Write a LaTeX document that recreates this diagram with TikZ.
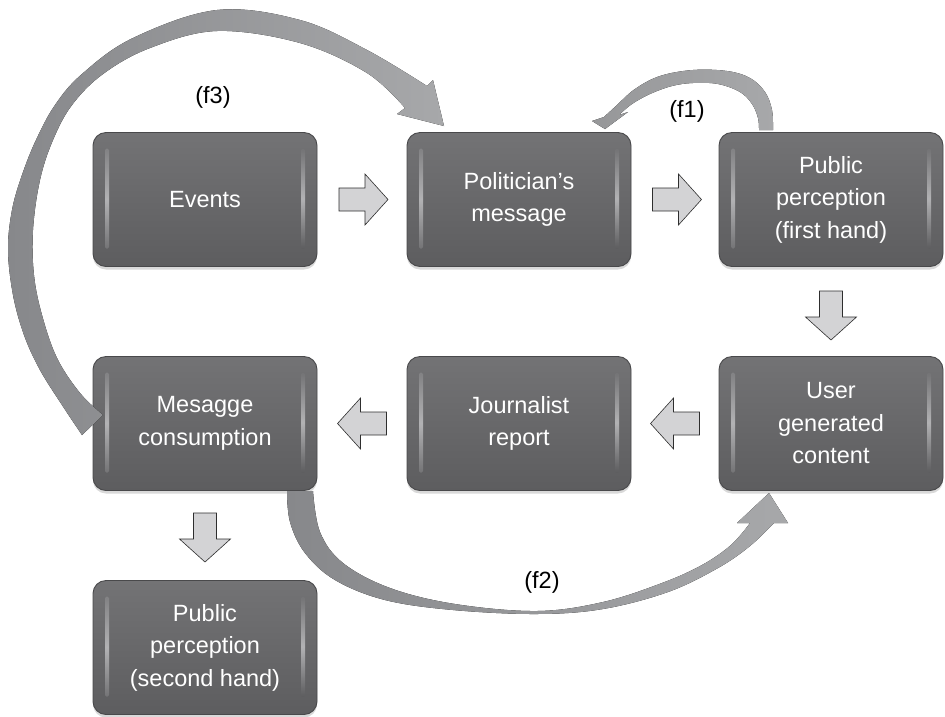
\documentclass[tikz,border=0pt]{standalone}
\usepackage{fontspec}
\setmainfont{Liberation Sans}
\usetikzlibrary{calc,shadows}
\definecolor{boxtop}{HTML}{737375}
\definecolor{boxbot}{HTML}{5D5D5F}
\definecolor{boxedge}{HTML}{49494B}
\definecolor{stripc}{HTML}{B2B2B4}
\definecolor{arrfill}{HTML}{D3D3D5}
\definecolor{arredge}{HTML}{2E2E2E}
\definecolor{cdark}{HTML}{87888B}
\definecolor{clight}{HTML}{A7A8AA}
\tikzset{
 box/.style={rectangle, rounded corners=13pt, minimum width=224pt, minimum height=134pt,
   inner sep=0pt, draw=boxedge, line width=0.9pt, top color=boxtop, bottom color=boxbot,
   text=white, font=\fontsize{23.5}{32.5}\selectfont, align=center,
   drop shadow={shadow xshift=0pt, shadow yshift=-3pt, opacity=0.3},
   path picture={
     \shade[top color=boxtop, bottom color=boxbot, middle color=stripc, rounded corners=1.5pt]
       ($(path picture bounding box.north west)+(12pt,-16pt)$) rectangle ($(path picture bounding box.south west)+(16pt,18pt)$);
     \shade[top color=boxtop, bottom color=boxbot, middle color=stripc, rounded corners=1.5pt]
       ($(path picture bounding box.north east)+(-16pt,-16pt)$) rectangle ($(path picture bounding box.south east)+(-12pt,18pt)$);
   }},
 flowlabel/.style={font=\fontsize{23.5}{27}\selectfont, text=black, inner sep=0pt},
 blockarrow/.pic={\draw[fill=arrfill, draw=arredge, line width=0.6pt, line join=miter]
   (-24.5,-11.5) -- (1.5,-11.5) -- (1.5,-25.5) -- (24.5,0) -- (1.5,25.5) -- (1.5,11.5) -- (-24.5,11.5) -- cycle;},
 curvedarrow/.style={left color=cdark, right color=clight, draw=none}
}
\begin{document}
\begin{tikzpicture}[x=1pt,y=-1pt]
\useasboundingbox (0,0) rectangle (945,716);
% boxes
\node[box] (ev)  at (205,199.5) {Events};
\node[box] (pol) at (519,199.5) {Politician’s\\message};
\node[box] (ppf) at (831,199.5) {Public\\perception\\(first hand)};
\node[box] (mc)  at (205,423.5) {Mesagge\\consumption};
\node[box] (jr)  at (519,423.5) {Journalist\\report};
\node[box] (ugc) at (831,423.5) {User\\generated\\content};
\node[box] (pps) at (205,647.5) {Public\\perception\\(second hand)};
% block arrows
\pic at ($(ev.east)!0.5!(pol.west)+(1.5,0)$) {blockarrow};
\pic at ($(pol.east)!0.5!(ppf.west)+(2,0)$) {blockarrow};
\pic[rotate=-90] at ($(ppf.south)!0.5!(ugc.north)+(0,4)$) {blockarrow};
\pic[rotate=180] at ($(ugc.west)!0.5!(jr.east)$) {blockarrow};
\pic[rotate=180] at ($(jr.west)!0.5!(mc.east)$) {blockarrow};
\pic[rotate=-90] at ($(mc.south)!0.5!(pps.north)+(0,2)$) {blockarrow};
% curved arrow f3 (mc -> pol)
\coordinate (f3tip) at (444,126);
\fill[curvedarrow]
  plot[smooth,tension=0.6] coordinates {(82,435) (62,405) (40,370) (24,335) (13,295) (8,250) (12,210) (22,175) (36,140) (55,105) (82,74) (133,38) (217,10) (300,20) (367,50) (427,86)}
  -- (433,80) -- (f3tip) -- (397,114) --
  plot[smooth,tension=0.6] coordinates {(405,108) (367,73) (300,43) (217,31) (150,48) (103,74) (72,105) (53,140) (40,180) (33,230) (34,275) (42,315) (57,358) (80,393) (103,415)}
  -- cycle;
% curved arrow f1 (ppf -> pol)
\coordinate (f1tip) at (605,129);
\fill[left color=clight!90!black, right color=clight, draw=none]
  plot[smooth,tension=0.6] coordinates {(773,130) (772,110) (765,92) (750,78) (727,71) (693,70) (660,76) (635,89) (616,106) (604,117)}
  -- (592,121) -- (f1tip) -- (628,112) --
  plot[smooth,tension=0.6] coordinates {(619,115) (632,104) (650,94) (672,86) (693,83) (718,84) (740,92) (752,104) (758,118) (759,130)}
  -- cycle;
% curved arrow f2 (mc -> ugc)
\coordinate (f2tip) at (769,493);
\fill[curvedarrow]
  plot[smooth,tension=0.6] coordinates {(287,491) (290,522) (305,553) (335,580) (385,600) (453,610) (537,614) (603,609) (668,592) (718,568) (750,546) (774,523)}
  -- (788,523) -- (f2tip) -- (737,523) --
  plot[smooth,tension=0.6] coordinates {(750,523) (731,545) (702,565) (662,583) (603,602) (537,611) (455,604) (390,588) (343,563) (320,532) (313,491)}
  -- cycle;
% labels
\node[flowlabel] (lf3) at (213,97) {(f3)};
\node[flowlabel] (lf1) at (687,111) {(f1)};
\node[flowlabel] (lf2) at (542,582) {(f2)};
\end{tikzpicture}
\end{document}
